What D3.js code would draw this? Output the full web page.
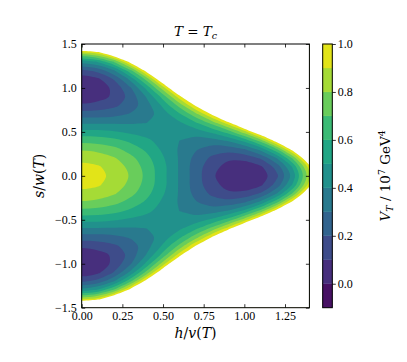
<!DOCTYPE html>
<html>
<head>
<meta charset="utf-8">
<script src="https://cdn.jsdelivr.net/npm/d3@7"></script>
<style>
  body { margin: 0; background: #fff; }
  text { fill: #000; }
</style>
</head>
<body>
<div id="chart"></div>
<script>
// grid of the potential V_T (in 10^7 GeV^4)
// columns: h/v(T), rows: s/w(T) >= 0 (the plot is symmetric in s)
var hGrid = [0.0, 0.1, 0.2, 0.3, 0.4, 0.5, 0.6, 0.7, 0.8, 0.9, 1.0, 1.1, 1.2, 1.3, 1.4, 1.5];
var sGrid = [0.0, 0.1, 0.2, 0.3, 0.4, 0.5, 0.6, 0.7, 0.8, 0.9, 1.0, 1.1, 1.2, 1.3, 1.4, 1.5, 1.6];
var potential = [
  [0.95, 0.93, 0.87, 0.79, 0.67, 0.53, 0.39, 0.25, 0.12, 0.03, 0.00, 0.04, 0.18, 0.45, 0.87, 1.48],
  [0.93, 0.91, 0.86, 0.77, 0.66, 0.53, 0.39, 0.25, 0.14, 0.06, 0.03, 0.08, 0.24, 0.52, 0.95, 1.58],
  [0.87, 0.86, 0.81, 0.73, 0.63, 0.51, 0.39, 0.27, 0.18, 0.12, 0.13, 0.21, 0.40, 0.72, 1.20, 1.86],
  [0.79, 0.77, 0.73, 0.66, 0.58, 0.48, 0.39, 0.31, 0.25, 0.24, 0.29, 0.43, 0.68, 1.06, 1.60, 2.34],
  [0.67, 0.66, 0.63, 0.58, 0.52, 0.46, 0.40, 0.36, 0.36, 0.41, 0.53, 0.74, 1.07, 1.54, 2.18, 3.02],
  [0.53, 0.53, 0.51, 0.48, 0.46, 0.43, 0.43, 0.45, 0.52, 0.64, 0.85, 1.15, 1.59, 2.17, 2.93, 3.91],
  [0.39, 0.39, 0.39, 0.39, 0.40, 0.43, 0.48, 0.58, 0.73, 0.95, 1.26, 1.68, 2.24, 2.96, 3.88, 5.01],
  [0.25, 0.25, 0.27, 0.31, 0.36, 0.45, 0.58, 0.76, 1.01, 1.34, 1.77, 2.33, 3.05, 3.93, 5.02, 6.35],
  [0.12, 0.14, 0.18, 0.25, 0.36, 0.52, 0.73, 1.01, 1.37, 1.83, 2.41, 3.13, 4.01, 5.09, 6.38, 7.93],
  [0.03, 0.06, 0.12, 0.24, 0.41, 0.64, 0.95, 1.34, 1.83, 2.43, 3.18, 4.08, 5.16, 6.45, 7.98, 9.77],
  [0.00, 0.03, 0.13, 0.29, 0.53, 0.85, 1.26, 1.77, 2.41, 3.18, 4.10, 5.20, 6.51, 8.04, 9.82, 9.99],
  [0.04, 0.08, 0.21, 0.43, 0.74, 1.15, 1.68, 2.33, 3.13, 4.08, 5.20, 6.53, 8.08, 9.87, 9.99, 9.99],
  [0.18, 0.24, 0.40, 0.68, 1.07, 1.59, 2.24, 3.05, 4.01, 5.16, 6.51, 8.08, 9.89, 9.99, 9.99, 9.99],
  [0.45, 0.52, 0.72, 1.06, 1.54, 2.17, 2.96, 3.93, 5.09, 6.45, 8.04, 9.87, 9.99, 9.99, 9.99, 9.99],
  [0.87, 0.95, 1.20, 1.60, 2.18, 2.93, 3.88, 5.02, 6.38, 7.98, 9.82, 9.99, 9.99, 9.99, 9.99, 9.99],
  [1.48, 1.58, 1.86, 2.34, 3.02, 3.91, 5.01, 6.35, 7.93, 9.77, 9.99, 9.99, 9.99, 9.99, 9.99, 9.99],
  [2.31, 2.42, 2.75, 3.31, 4.10, 5.12, 6.40, 7.94, 9.76, 9.99, 9.99, 9.99, 9.99, 9.99, 9.99, 9.99]
];

// contour levels and ticks
var levels = [-0.1, 0.0, 0.1, 0.2, 0.3, 0.4, 0.5, 0.6, 0.7, 0.8, 0.9, 1.0];
var xTicks = [0, 0.25, 0.5, 0.75, 1.0, 1.25];
var yTicks = [-1.5, -1.0, -0.5, 0.0, 0.5, 1.0, 1.5];
var cbarTicks = [0.0, 0.2, 0.4, 0.6, 0.8, 1.0];

var W = 407, H = 362;
var plot = {left: 81.7, right: 309.4, top: 44, bottom: 307.7};
var cbar = {left: 322.7, right: 332.3};
var tickFont = "'Liberation Serif', serif";
var mathFont = "'DejaVu Serif', serif";

var svg = d3.select("#chart")
  .append("svg")
    .attr("width", W)
    .attr("height", H);

var x = d3.scaleLinear().domain([0, 1.4]).range([plot.left, plot.right]);
var y = d3.scaleLinear().domain([-1.5, 1.5]).range([plot.bottom, plot.top]);

// full grid: mirror the s >= 0 rows to s < 0, add one mirrored column at h = -0.1
var nx = hGrid.length + 1, ny = 2 * sGrid.length - 1;
var values = [];
for (var j = 0; j < ny; j++) {
  var row = potential[Math.abs(sGrid.length - 1 - j)];
  for (var i = 0; i < nx; i++) values.push(row[Math.abs(i - 1)]);
}
// grid coordinates -> data coordinates (sample k sits at k + 0.5)
var gx = d3.scaleLinear().domain([0.5, nx - 0.5]).range([-hGrid[1], hGrid[hGrid.length - 1]]);
var gy = d3.scaleLinear().domain([0.5, ny - 0.5]).range([sGrid[sGrid.length - 1], -sGrid[sGrid.length - 1]]);

var colors = levels.slice(0, -1).map(function(d, k) {
  return d3.interpolateViridis((k + 0.5) / (levels.length - 1));
});

svg.append("clipPath").attr("id", "clip")
  .append("rect")
    .attr("x", plot.left).attr("y", plot.top)
    .attr("width", plot.right - plot.left).attr("height", plot.bottom - plot.top);

var contours = d3.contours().size([nx, ny]).thresholds(levels)(values);
var ring = d3.line().curve(d3.curveCatmullRomClosed.alpha(0.5));

svg.append("g")
    .attr("clip-path", "url(#clip)")
  .selectAll("path")
  .data(contours)
  .enter()
  .append("path")
    .attr("fill-rule", "evenodd")
    .attr("fill", function(d, k) { return k < colors.length ? colors[k] : "#fff"; })
    .attr("d", function(d) {
      return d.coordinates.map(function(poly) {
        return poly.map(function(r) {
          return ring(r.slice(0, -1).map(function(p) { return [x(gx(p[0])), y(gy(p[1]))]; }));
        }).join("");
      }).join("");
    });

// axes, ticks pointing in on all four sides
function styleAxis(g) {
  g.select(".domain").remove();
  g.selectAll(".tick line").attr("stroke", "#000").attr("stroke-width", 0.8);
  g.selectAll(".tick text").attr("font-family", tickFont).attr("font-size", 12).attr("fill", "#000");
}
svg.append("g")
    .attr("transform", "translate(0," + plot.bottom + ")")
    .call(d3.axisBottom(x).tickValues(xTicks).tickSize(-3.5).tickPadding(4).tickFormat(d3.format(".2f")))
    .call(styleAxis);
svg.append("g")
    .attr("transform", "translate(0," + plot.top + ")")
    .call(d3.axisTop(x).tickValues(xTicks).tickSize(-3.5).tickFormat(""))
    .call(styleAxis);
svg.append("g")
    .attr("transform", "translate(" + plot.left + ",0)")
    .call(d3.axisLeft(y).tickValues(yTicks).tickSize(-3.5).tickPadding(5).tickFormat(d3.format(".1f")))
    .call(styleAxis);
svg.append("g")
    .attr("transform", "translate(" + plot.right + ",0)")
    .call(d3.axisRight(y).tickValues(yTicks).tickSize(-3.5).tickFormat(""))
    .call(styleAxis);

svg.append("rect")
    .attr("x", plot.left).attr("y", plot.top)
    .attr("width", plot.right - plot.left).attr("height", plot.bottom - plot.top)
    .attr("fill", "none").attr("stroke", "#000").attr("stroke-width", 1);

// colorbar
var cb = d3.scaleLinear().domain([levels[0], levels[levels.length - 1]]).range([plot.bottom, plot.top]);
svg.append("g")
  .selectAll("rect")
  .data(colors)
  .enter()
  .append("rect")
    .attr("x", cbar.left)
    .attr("width", cbar.right - cbar.left)
    .attr("y", function(d, k) { return cb(levels[k + 1]); })
    .attr("height", function(d, k) { return cb(levels[k]) - cb(levels[k + 1]); })
    .attr("fill", function(d) { return d; })
    .attr("stroke", function(d) { return d; })
    .attr("stroke-width", 0.3);
svg.append("rect")
    .attr("x", cbar.left).attr("y", plot.top)
    .attr("width", cbar.right - cbar.left).attr("height", plot.bottom - plot.top)
    .attr("fill", "none").attr("stroke", "#000").attr("stroke-width", 1);
svg.append("g")
    .attr("transform", "translate(" + cbar.right + ",0)")
    .call(d3.axisRight(cb).tickValues(cbarTicks).tickSize(3.5).tickPadding(2).tickFormat(d3.format(".1f")))
    .call(styleAxis);

// title and labels
var title = svg.append("text")
    .attr("x", (plot.left + plot.right) / 2).attr("y", 35.5)
    .attr("text-anchor", "middle")
    .attr("font-family", mathFont).attr("font-size", 13.5);
title.append("tspan").attr("font-style", "italic").text("T");
title.append("tspan").text(" = ");
title.append("tspan").attr("font-style", "italic").text("T");
title.append("tspan").attr("font-style", "italic").attr("font-size", 9.5).attr("dy", 3).text("c");

var xl = svg.append("text")
    .attr("x", (plot.left + plot.right) / 2).attr("y", 338)
    .attr("text-anchor", "middle")
    .attr("font-family", mathFont).attr("font-size", 14);
xl.append("tspan").attr("font-style", "italic").text("h");
xl.append("tspan").text("/");
xl.append("tspan").attr("font-style", "italic").text("v");
xl.append("tspan").text("(");
xl.append("tspan").attr("font-style", "italic").text("T");
xl.append("tspan").text(")");

var yl = svg.append("text")
    .attr("transform", "translate(43.5," + (plot.top + plot.bottom) / 2 + ")rotate(-90)")
    .attr("text-anchor", "middle")
    .attr("font-family", mathFont).attr("font-size", 14);
yl.append("tspan").attr("font-style", "italic").text("s");
yl.append("tspan").text("/");
yl.append("tspan").attr("font-style", "italic").text("w");
yl.append("tspan").text("(");
yl.append("tspan").attr("font-style", "italic").text("T");
yl.append("tspan").text(")");

var cl = svg.append("text")
    .attr("transform", "translate(390," + (plot.top + plot.bottom) / 2 + ")rotate(-90)")
    .attr("text-anchor", "middle")
    .attr("font-family", mathFont).attr("font-size", 13.5);
cl.append("tspan").attr("font-style", "italic").text("V");
cl.append("tspan").attr("font-style", "italic").attr("font-size", 9.5).attr("dy", 3).text("T");
cl.append("tspan").attr("dy", -3).text(" / 10");
cl.append("tspan").attr("font-size", 9.5).attr("dy", -5).text("7");
cl.append("tspan").attr("dy", 5).text(" GeV");
cl.append("tspan").attr("font-size", 9.5).attr("dy", -5).text("4");
</script>
</body>
</html>
